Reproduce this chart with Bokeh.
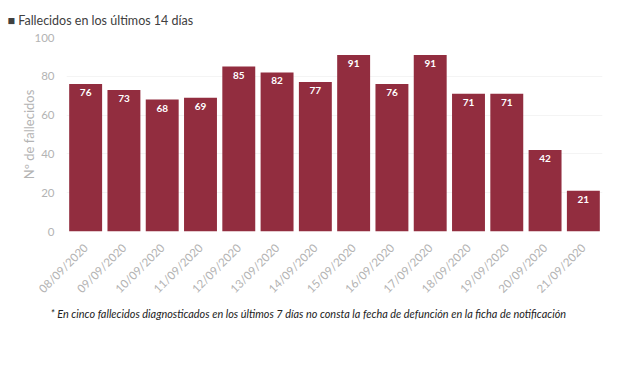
from bokeh.plotting import figure
from bokeh.models import ColumnDataSource, Range1d, FixedTicker, Title
from bokeh.core.properties import value
from bokeh.embed import file_html
from bokeh.resources import INLINE
import math

dates = ["08/09/2020", "09/09/2020", "10/09/2020", "11/09/2020", "12/09/2020",
         "13/09/2020", "14/09/2020", "15/09/2020", "16/09/2020", "17/09/2020",
         "18/09/2020", "19/09/2020", "20/09/2020", "21/09/2020"]
deaths = [76, 73, 68, 69, 85, 82, 77, 91, 76, 91, 71, 71, 42, 21]
y_ticks = [0, 20, 40, 60, 80, 100]

BAR = "#922d3f"
GRAY = "#b3b3b3"
FONT = "Lato"

src = ColumnDataSource(dict(x=dates, y=deaths, t=[str(v) for v in deaths]))

p = figure(x_range=dates, y_range=Range1d(0, 100), width=604, height=352,
           output_backend="svg", toolbar_location=None,
           min_border_left=66, min_border_right=2, min_border_top=36, min_border_bottom=121)
p.outline_line_color = None
p.background_fill_color = "white"

p.vbar(x="x", top="y", width=0.86, source=src, color=BAR, line_color=None)
p.text(x="x", y="y", text="t", source=src, text_color="white", text_align="center",
       text_baseline="top", y_offset=5, text_font_size="10px", text_font_style="bold",
       text_font=value(FONT))

p.xgrid.grid_line_color = None
p.ygrid.grid_line_color = "#f4f4f4"
p.yaxis.ticker = FixedTicker(ticks=y_ticks)
for ax in (p.xaxis[0], p.yaxis[0]):
    ax.axis_line_color = None
    ax.major_tick_line_color = None
    ax.minor_tick_line_color = None
    ax.major_label_text_color = GRAY
    ax.major_label_text_font = FONT
    ax.major_label_text_font_size = "11.5px"
p.yaxis.major_label_standoff = 6
p.xaxis.major_label_orientation = math.pi / 4
p.xaxis.major_label_standoff = 8
p.yaxis.axis_label = "Nº de fallecidos"
p.yaxis.axis_label_text_color = GRAY
p.yaxis.axis_label_text_font = FONT
p.yaxis.axis_label_text_font_style = "normal"
p.yaxis.axis_label_text_font_size = "13px"
p.yaxis.axis_label_standoff = -6

p.title.text = "■ Fallecidos en los últimos 14 días"
p.title.align = "left"
p.title.offset = -59
p.title.text_font = FONT
p.title.text_font_size = "12.5px"
p.title.text_font_style = "normal"
p.title.text_color = "#404040"
p.title.standoff = 20

foot = Title(text="* En cinco fallecidos diagnosticados en los últimos 7 días no consta la fecha de defunción en la ficha de notificación",
             align="left", offset=-16, text_font=FONT, text_font_size="10.9px",
             text_font_style="italic", text_color="#222222", standoff=4)
p.add_layout(foot, "below")

open("out.html", "w").write(file_html(p, INLINE))
